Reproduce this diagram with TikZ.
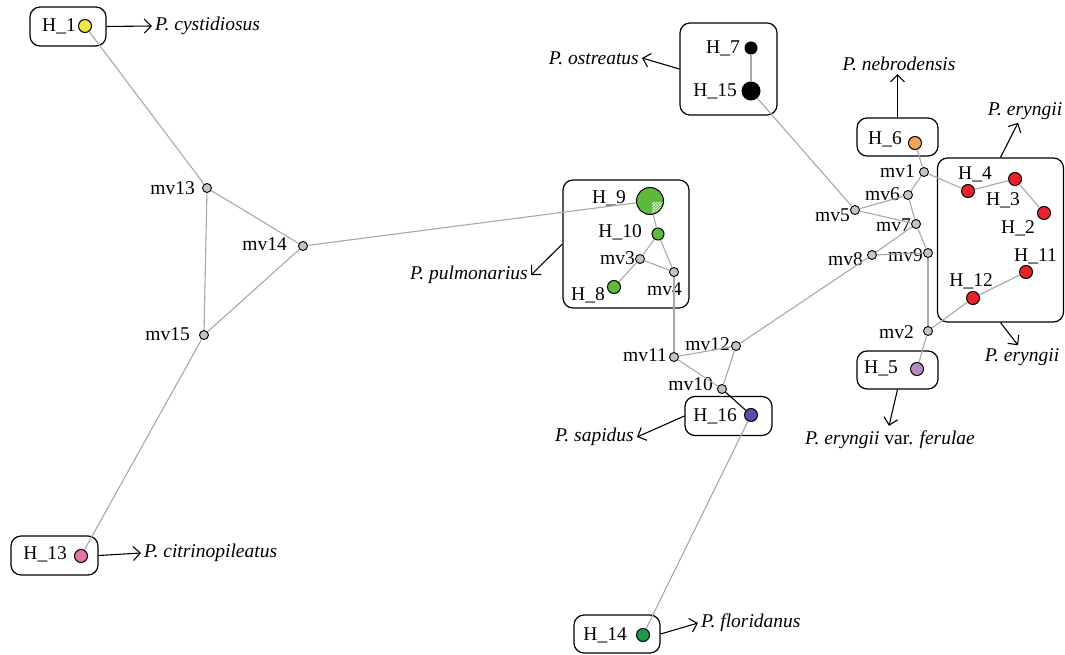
\documentclass[tikz,border=0pt]{standalone}
\usepackage{fontspec}
\setmainfont{Liberation Serif}
\usetikzlibrary{arrows.meta,patterns}

\definecolor{edgegray}{HTML}{A8A8A8}
\definecolor{medgray}{HTML}{C4C4C4}
\definecolor{hyellow}{HTML}{EEE84A}
\definecolor{hpink}{HTML}{E574A8}
\definecolor{hgreen}{HTML}{5DB83D}
\definecolor{horange}{HTML}{F2A35C}
\definecolor{hred}{HTML}{E8232B}
\definecolor{hlilac}{HTML}{B28DC2}
\definecolor{hpurple}{HTML}{5A4EA4}
\definecolor{hdkgreen}{HTML}{1F9A4A}

\begin{document}
\begin{tikzpicture}[x=1pt, y=-1pt,
    every node/.style={font=\fontsize{19.5}{22}\selectfont},
    hap/.style={circle, draw=black, line width=1pt, inner sep=0pt, minimum size=13pt},
    med/.style={circle, draw=black, line width=0.9pt, fill=medgray, inner sep=0pt, minimum size=9pt},
    grp/.style={draw=black, line width=1.2pt, rounded corners=10pt, inner sep=0pt},
    lbl/.style={inner sep=1pt, anchor=east},
    sp/.style={font=\fontsize{19.5}{22}\selectfont\itshape, inner sep=3pt},
    link/.style={draw=edgegray, line width=1.1pt},
    tag/.style={draw=black, line width=1.1pt, -{Straight Barb[length=7pt,width=14pt]}}
]

    \useasboundingbox (0,0) rectangle (1065,655);

    % Group boxes
    \node[grp, minimum width=76, minimum height=39] (bxA) at (68,26.5) {};
    \node[grp, minimum width=97, minimum height=92] (bxB) at (728.5,69) {};
    \node[grp, minimum width=126, minimum height=128] (bxC) at (626,244) {};
    \node[grp, minimum width=87, minimum height=39] (bxD) at (54.5,555.5) {};
    \node[grp, minimum width=81, minimum height=38] (bxE) at (897.5,137) {};
    \node[grp, minimum width=87, minimum height=39] (bxF) at (728.5,416) {};
    \node[grp, minimum width=126, minimum height=164] (bxG) at (1000.5,240) {};
    \node[grp, minimum width=81, minimum height=38] (bxH) at (897.5,370) {};
    \node[grp, minimum width=86, minimum height=38] (bxI) at (617,634) {};

    % Haplotypes
    \node[hap, fill=hyellow] (h1) at (85,26) {};
    \node[hap, fill=hred] (h2) at (1044,213) {};
    \node[hap, fill=hred] (h3) at (1015,179) {};
    \node[hap, fill=hred] (h4) at (968,191) {};
    \node[hap, fill=hlilac] (h5) at (917,369) {};
    \node[hap, fill=horange] (h6) at (915,143) {};
    \node[hap, fill=black, minimum size=12pt] (h7) at (751,48) {};
    \node[hap, fill=hgreen] (h8) at (614,287) {};
    \node[hap, fill=hgreen, minimum size=27pt] (h9) at (650,201) {};
    \node[hap, fill=hgreen, minimum size=12pt] (h10) at (658,234) {};
    \node[hap, fill=hred] (h11) at (1026,272) {};
    \node[hap, fill=hred] (h12) at (973,298) {};
    \node[hap, fill=hpink] (h13) at (81,556) {};
    \node[hap, fill=hdkgreen] (h14) at (643,635) {};
    \node[hap, fill=black, minimum size=18pt] (h15) at (751,91) {};
    \node[hap, fill=hpurple] (h16) at (751,415) {};

    % shared part of H_9
    \begin{scope}
        \clip (h9.center) circle (12.5pt);
        \fill[pattern=crosshatch, pattern color=white!85!hgreen] (652,203) rectangle (664,214);
    \end{scope}

    % Median vectors
    \node[med] (mv1) at (924,172) {};
    \node[med] (mv2) at (928,331) {};
    \node[med] (mv3) at (640,259) {};
    \node[med] (mv4) at (674,272) {};
    \node[med] (mv5) at (855,210) {};
    \node[med] (mv6) at (908,195) {};
    \node[med] (mv7) at (916,224) {};
    \node[med] (mv8) at (872,255) {};
    \node[med] (mv9) at (928,253) {};
    \node[med] (mv10) at (722,389) {};
    \node[med] (mv11) at (674,357) {};
    \node[med] (mv12) at (736,346) {};
    \node[med] (mv13) at (207,188) {};
    \node[med] (mv14) at (303,246) {};
    \node[med] (mv15) at (204,335) {};

    % Labels
    \node[lbl] at (77,26) {H\_1};
    \node[lbl] at (1036,228) {H\_2};
    \node[lbl] at (1021,200) {H\_3};
    \node[lbl] at (993,174) {H\_4};
    \node[lbl] at (899,368) {H\_5};
    \node[lbl] at (903,139) {H\_6};
    \node[lbl] at (741,48) {H\_7};
    \node[lbl] at (606,295) {H\_8};
    \node[lbl] at (627,198) {H\_9};
    \node[lbl] at (643,232) {H\_10};
    \node[lbl] at (1058,256) {H\_11};
    \node[lbl] at (994,281) {H\_12};
    \node[lbl] at (68,554) {H\_13};
    \node[lbl] at (628,635) {H\_14};
    \node[lbl] at (738,91) {H\_15};
    \node[lbl] at (738,416) {H\_16};
    \node[lbl] at (916,171) {mv1};
    \node[lbl] at (915,332) {mv2};
    \node[lbl] at (636,258) {mv3};
    \node[lbl] at (683,289) {mv4};
    \node[lbl] at (851,215) {mv5};
    \node[lbl] at (901,194) {mv6};
    \node[lbl] at (912,225) {mv7};
    \node[lbl] at (864,259) {mv8};
    \node[lbl] at (924,255) {mv9};
    \node[lbl] at (714,384) {mv10};
    \node[lbl] at (668,355) {mv11};
    \node[lbl] at (731,344) {mv12};
    \node[lbl] at (196,188) {mv13};
    \node[lbl] at (288,244) {mv14};
    \node[lbl] at (191,334) {mv15};

    % Network links
    \draw[link] (h1) -- (mv13);
    \draw[link] (mv13) -- (mv14);
    \draw[link] (mv13) -- (mv15);
    \draw[link] (mv14) -- (mv15);
    \draw[link] (mv15) -- (h13);
    \draw[link] (mv14) -- (h9);
    \draw[link] (h9) -- (h10);
    \draw[link] (h10) -- (mv3);
    \draw[link] (h10) -- (mv4);
    \draw[link] (mv3) -- (mv4);
    \draw[link] (mv3) -- (h8);
    \draw[link] (mv4) -- (mv11);
    \draw[link] (mv11) -- (mv12);
    \draw[link] (mv11) -- (mv10);
    \draw[link] (mv12) -- (mv10);
    \draw[black, line width=1.1pt] (mv10) -- (h16);
    \draw[link] (h16) -- (h14);
    \draw[link] (mv12) -- (mv8);
    \draw[link] (mv8) -- (mv7);
    \draw[link] (mv8) -- (mv9);
    \draw[link] (mv7) -- (mv9);
    \draw[link] (mv9) -- (mv2);
    \draw[link] (mv7) -- (mv5);
    \draw[link] (mv7) -- (mv6);
    \draw[link] (mv5) -- (mv6);
    \draw[link] (mv6) -- (mv1);
    \draw[link] (mv5) -- (h15);
    \draw[link] (h15) -- (h7);
    \draw[link] (mv1) -- (h6);
    \draw[link] (mv1) -- (h4);
    \draw[link] (h4) -- (h3);
    \draw[link] (h3) -- (h2);
    \draw[link] (mv2) -- (h12);
    \draw[link] (h12) -- (h11);
    \draw[link] (mv2) -- (h5);

    % Species names
    \node[sp, anchor=west] (cyst) at (152,26) {P. cystidiosus};
    \node[sp, anchor=west] (citr) at (141,553) {P. citrinopileatus};
    \node[sp, anchor=east] (ostr) at (642,58) {P. ostreatus};
    \node[sp, anchor=east] (pulm) at (531,275) {P. pulmonarius};
    \node[sp, anchor=east] (sapi) at (637,437) {P. sapidus};
    \node[sp, anchor=west] (flor) at (698,623) {P. floridanus};
    \node[sp] (nebr) at (899,64) {P. nebrodensis};
    \node[sp] (ery1) at (1025,111) {P. eryngii};
    \node[sp] (ery2) at (1022,357) {P. eryngii};
    \node[inner sep=5pt] (feru) at (890,440) {\textit{P. eryngii} var. \textit{ferulae}};

    % Pointers from groups to species
    \draw[tag] (bxA.east) -- (cyst.west);
    \draw[tag] (bxD.east) -- (citr.west);
    \draw[tag] (bxB.west) -- (ostr.east);
    \draw[tag] (bxC.west) -- (pulm.east);
    \draw[tag] (bxF.west) -- (sapi.east);
    \draw[tag] (bxI.east) -- (flor.west);
    \draw[tag] (bxE.north) -- (bxE.north |- nebr.south);
    \draw[tag] (bxG.north) -- ([xshift=-7pt]ery1.south);
    \draw[tag] (bxG.south) -- ([xshift=-4pt]ery2.north);
    \draw[tag] (bxH.south) -- ([xshift=-1pt]feru.north);

\end{tikzpicture}
\end{document}
